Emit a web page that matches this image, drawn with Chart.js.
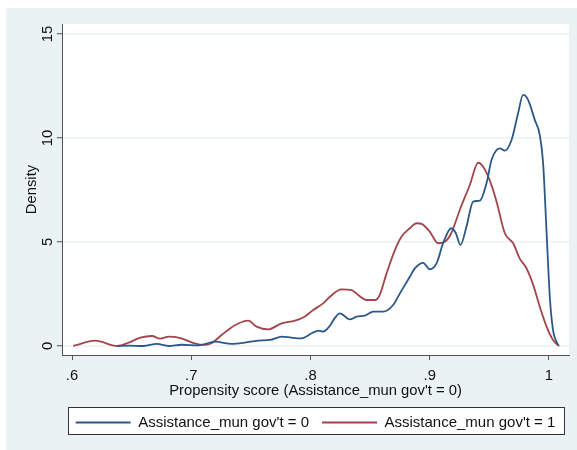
<!DOCTYPE html>
<html>
<head>
<meta charset="utf-8">
<script src="https://cdn.jsdelivr.net/npm/chart.js@4.4.1/dist/chart.umd.min.js"></script>
<style>
  html, body { margin: 0; padding: 0; background: #ffffff; overflow: hidden; }
  canvas { display: block; }
</style>
</head>
<body>
<canvas id="kdensity" width="577" height="450"></canvas>
<script>
// kernel density of the propensity score, by assistance group
const scoreControl = [0.638, 0.6475, 0.660, 0.671, 0.681, 0.692, 0.706, 0.720, 0.734, 0.745, 0.756, 0.766, 0.776, 0.784, 0.7925, 0.801, 0.8065, 0.8106, 0.816, 0.8205, 0.8246, 0.833, 0.8386, 0.8456, 0.8526, 0.861, 0.8693, 0.875, 0.8833, 0.8875, 0.8945, 0.900, 0.9057, 0.9112, 0.918, 0.9219, 0.9258, 0.9308, 0.9364, 0.942, 0.9476, 0.9518, 0.956, 0.9588, 0.963, 0.9686, 0.9741, 0.9783, 0.9825, 0.9881, 0.9923, 0.9951, 0.9979, 1.0007, 1.0034, 1.0076];
const densityControl = [0, 0.02, 0, 0.10, 0, 0.06, 0.03, 0.21, 0.10, 0.16, 0.26, 0.29, 0.45, 0.40, 0.37, 0.61, 0.74, 0.69, 0.95, 1.35, 1.57, 1.28, 1.41, 1.46, 1.65, 1.65, 1.97, 2.53, 3.33, 3.73, 4.00, 3.69, 3.97, 4.94, 5.66, 5.42, 4.86, 5.73, 6.94, 6.99, 7.82, 8.94, 9.42, 9.50, 9.39, 9.90, 11.19, 12.07, 11.83, 10.87, 10.14, 8.78, 5.58, 2.37, 0.77, 0.05];

const scoreTreated = [0.601, 0.6195, 0.638, 0.6475, 0.6573, 0.667, 0.674, 0.681, 0.691, 0.702, 0.7115, 0.717, 0.7255, 0.7366, 0.7478, 0.7548, 0.7645, 0.7758, 0.787, 0.795, 0.8023, 0.8106, 0.8163, 0.826, 0.8345, 0.840, 0.847, 0.854, 0.858, 0.8638, 0.8707, 0.8763, 0.8833, 0.889, 0.8931, 0.900, 0.907, 0.9127, 0.918, 0.9252, 0.9336, 0.9406, 0.9448, 0.9504, 0.956, 0.963, 0.970, 0.9755, 0.981, 0.9867, 0.9923, 0.998, 1.0034, 1.0085];
const densityTreated = [0, 0.26, 0, 0.16, 0.40, 0.48, 0.35, 0.45, 0.38, 0.14, 0.05, 0.13, 0.53, 1.00, 1.22, 0.93, 0.80, 1.09, 1.22, 1.41, 1.73, 2.05, 2.37, 2.72, 2.69, 2.45, 2.21, 2.21, 2.45, 3.49, 4.60, 5.25, 5.66, 5.90, 5.87, 5.50, 4.94, 5.01, 5.42, 6.54, 7.74, 8.81, 8.62, 7.95, 6.95, 5.42, 4.94, 4.20, 3.75, 2.95, 1.89, 0.93, 0.29, 0];

const seriesLabels = ["Assistance_mun gov't = 0", "Assistance_mun gov't = 1"];
const xTicks = [0.6, 0.7, 0.8, 0.9, 1];
const yTicks = [0, 5, 10, 15];

const NAVY = '#2b5886';
const MAROON = '#a2454b';
const BG = '#eaf2f3';
const AXIS = '#555555';
const FONT = "'Liberation Sans', Arial, sans-serif";

function toPoints(xs, ys) {
  return xs.map((x, i) => ({ x, y: ys[i] }));
}

// graph region (light) + plot region (white) + legend frame
const stataFrame = {
  id: 'stataFrame',
  beforeDraw(chart) {
    const { ctx, chartArea } = chart;
    ctx.save();
    ctx.fillStyle = '#ffffff';
    ctx.fillRect(0, 0, chart.width, chart.height);
    ctx.fillStyle = BG;
    ctx.fillRect(6, 8, chart.width - 6, chart.height - 8);
    ctx.fillStyle = '#ffffff';
    ctx.fillRect(chartArea.left, chartArea.top, chartArea.right - chartArea.left, chartArea.bottom - chartArea.top);
    // legend box spans the plot width, slightly inset
    const lg = chart.legend;
    const bx = chartArea.left + 6;
    const bw = chartArea.right - 4 - bx;
    const by = lg.top + 5;
    const bh = lg.bottom - 5 - by;
    ctx.fillRect(bx, by, bw, bh);
    ctx.strokeStyle = '#333333';
    ctx.lineWidth = 1;
    ctx.strokeRect(bx + 0.5, by + 0.5, bw - 1, bh - 1);
    ctx.restore();
  }
};

new Chart(document.getElementById('kdensity'), {
  type: 'line',
  data: {
    datasets: [
      {
        label: seriesLabels[0],
        data: toPoints(scoreControl, densityControl),
        borderColor: NAVY,
        borderWidth: 1.8,
        pointRadius: 0,
        tension: 0.4,
        cubicInterpolationMode: 'monotone',
        fill: false
      },
      {
        label: seriesLabels[1],
        data: toPoints(scoreTreated, densityTreated),
        borderColor: MAROON,
        borderWidth: 1.8,
        pointRadius: 0,
        tension: 0.4,
        cubicInterpolationMode: 'monotone',
        fill: false
      }
    ]
  },
  options: {
    responsive: false,
    animation: false,
    events: [],
    devicePixelRatio: 1,
    layout: { padding: { top: 24, right: 8, bottom: 10, left: 0 } },
    plugins: {
      tooltip: { enabled: false },
      legend: {
        position: 'bottom',
        fullSize: false,
        labels: {
          color: '#111111',
          font: { family: FONT, size: 15 },
          usePointStyle: true,
          pointStyle: 'line',
          pointStyleWidth: 55,
          padding: 13
        }
      }
    },
    scales: {
      x: {
        type: 'linear',
        min: 0.5916,
        max: 1.0168,
        afterBuildTicks: (scale) => { scale.ticks = xTicks.map((v) => ({ value: v })); },
        afterFit: (scale) => { scale.height = 47; },
        grid: { drawOnChartArea: false, tickLength: 5, tickColor: AXIS, tickWidth: 1 },
        border: { color: AXIS, width: 1 },
        ticks: {
          color: '#111111',
          font: { family: FONT, size: 14.8 },
          padding: 7,
          maxRotation: 0,
          callback: (v) => (v === 1 ? '1' : v.toFixed(1).replace(/^0/, ''))
        },
        title: {
          display: true,
          text: "Propensity score (Assistance_mun gov't = 0)",
          color: '#111111',
          font: { family: FONT, size: 14.8 },
          padding: { top: 0, bottom: 2 }
        }
      },
      y: {
        type: 'linear',
        min: -0.433,
        max: 15.48,
        afterBuildTicks: (scale) => { scale.ticks = yTicks.map((v) => ({ value: v })); },
        afterFit: (scale) => { scale.width = 62; },
        grid: { color: BG, lineWidth: 1.5, tickLength: 5, tickColor: AXIS, tickWidth: 1 },
        border: { color: AXIS, width: 1 },
        ticks: {
          color: '#111111',
          font: { family: FONT, size: 14.8 },
          padding: 1,
          minRotation: 90,
          maxRotation: 90,
          crossAlign: 'center'
        },
        title: {
          display: true,
          text: 'Density',
          color: '#111111',
          font: { family: FONT, size: 14.8 },
          padding: { top: 23, bottom: 0 }
        }
      }
    }
  },
  plugins: [stataFrame]
});
</script>
</body>
</html>
